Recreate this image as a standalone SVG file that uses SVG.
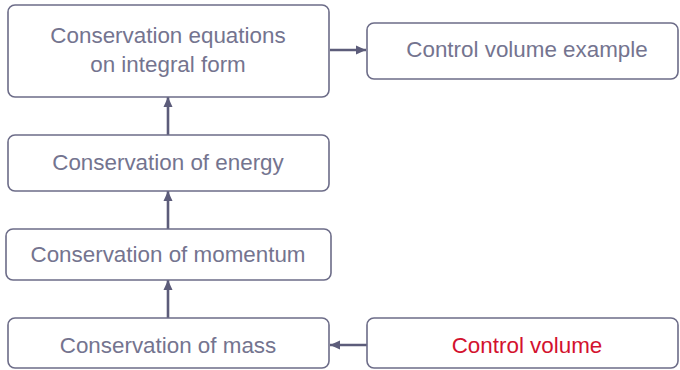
<svg xmlns="http://www.w3.org/2000/svg" width="680" height="370" viewBox="0 0 680 370">
<style>
.box{fill:#fff;stroke:#6c6c88;stroke-width:1.6}
.t{font-family:"Liberation Sans",Arial,sans-serif;font-size:22.4px;fill:#74748f;text-anchor:middle}
.red{fill:#d3122e}
.c{stroke:#5c5c7a;stroke-width:2.6;fill:none;marker-end:url(#ah)}
</style>
<defs>
<marker id="ah" viewBox="0 0 10 10" refX="10" refY="5" markerWidth="4" markerHeight="3.6" markerUnits="strokeWidth" orient="auto" preserveAspectRatio="none">
<path d="M0,0 L10,5 L0,10 z" fill="#5c5c7a"/>
</marker>
</defs>
<rect width="680" height="370" fill="#fff"/>
<g id="connectors">
<line class="c" x1="168" y1="318" x2="168" y2="280"/>
<line class="c" x1="168" y1="229" x2="168" y2="191"/>
<line class="c" x1="168" y1="135" x2="168" y2="97"/>
<line class="c" x1="330" y1="50" x2="366" y2="50"/>
<line class="c" x1="367" y1="345" x2="330" y2="345"/>
</g>
<g id="eq">
<rect class="box" x="8" y="5" width="321" height="92" rx="7"/>
<text class="t" x="168" y="43">Conservation equations</text>
<text class="t" x="168" y="72">on integral form</text>
</g>
<g id="cvex">
<rect class="box" x="367" y="23" width="311" height="56" rx="7"/>
<text class="t" x="527" y="57">Control volume example</text>
</g>
<g id="energy">
<rect class="box" x="8" y="135" width="321" height="56" rx="7"/>
<text class="t" x="168" y="170">Conservation of energy</text>
</g>
<g id="momentum">
<rect class="box" x="6" y="229" width="325" height="51" rx="7"/>
<text class="t" x="168" y="262">Conservation of momentum</text>
</g>
<g id="mass">
<rect class="box" x="8" y="318" width="321" height="50" rx="7"/>
<text class="t" x="168" y="353">Conservation of mass</text>
</g>
<g id="cv">
<rect class="box" x="367" y="318" width="311" height="50" rx="7"/>
<text class="t red" x="527" y="353">Control volume</text>
</g>
</svg>
